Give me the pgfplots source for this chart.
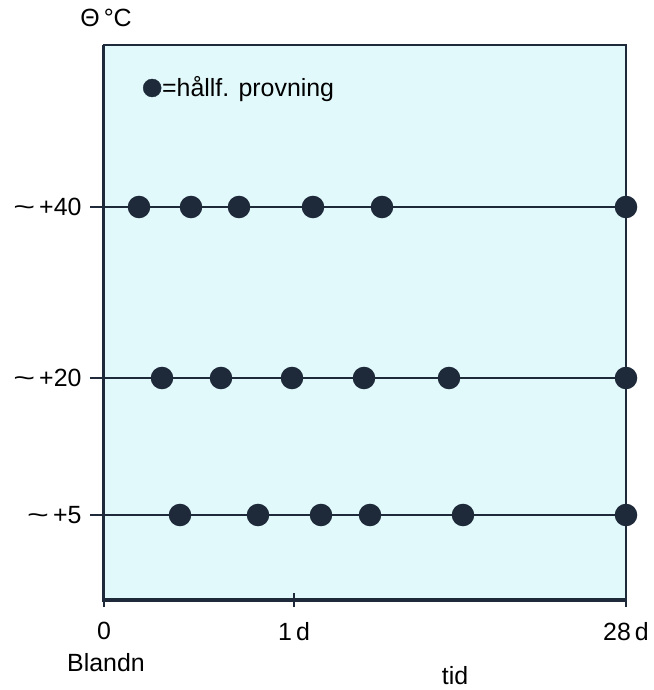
\documentclass[border=0pt]{standalone}
\usepackage{fontspec}
\setmainfont{Liberation Sans}
\usepackage{pgfplots}
\pgfplotsset{compat=1.18}
\definecolor{bgblue}{HTML}{E2F9FB}
\definecolor{dot}{HTML}{1E2A3A}
\newcommand{\ca}{\scalebox{1.5}[1]{\textasciitilde}\,}
\begin{document}
\fontsize{25}{30}\selectfont
\begin{tikzpicture}
  \begin{axis}[
      scale only axis,
      width=522bp,
      height=555bp,
      xmin=0, xmax=522,
      ymin=0, ymax=555,
      clip=false,
      axis background/.style={fill=bgblue},
      axis line style={line width=1.3bp, draw=dot},
      tick pos=left,
      xtick={190},
      xticklabels={1\,d},
      x tick style={line width=2bp, draw=dot},
      xtick align=center,
      x tick label style={anchor=north, yshift=-7bp},
      extra x ticks={0,522},
      extra x tick labels={0,28\,d},
      extra x tick style={tick style={draw=none}},
      ytick={85,222,393},
      yticklabels={\ca+5,\ca+20,\ca+40},
      ytick align=outside,
      y tick style={line width=2bp, draw=dot},
      major tick length=14bp,
      legend style={at={(axis cs:39,512)}, anchor=west, draw=none, fill=none,
        inner sep=0pt, nodes={inner xsep=1pt}},
      legend image code/.code={
        \draw[dot, mark=*, mark size=9bp, mark options={fill=dot}]
          plot coordinates {(9bp,0bp)};
      },
  ]
    \addlegendimage{}
    \addlegendentry{=hållf. provning}

    % +40
    \addplot[dot, line width=2.5bp, mark=*, mark size=10bp,
      mark options={fill=dot}, mark indices={2,3,4,5,6,7}, forget plot]
      coordinates {(0,393) (35,393) (87,393) (135,393) (209,393) (278,393) (522,393)};
    % +20
    \addplot[dot, line width=2.5bp, mark=*, mark size=10bp,
      mark options={fill=dot}, mark indices={2,3,4,5,6,7}, forget plot]
      coordinates {(0,222) (58,222) (117,222) (188,222) (260,222) (345,222) (522,222)};
    % +5
    \addplot[dot, line width=2.5bp, mark=*, mark size=10bp,
      mark options={fill=dot}, mark indices={2,3,4,5,6,7}, forget plot]
      coordinates {(0,85) (76,85) (154,85) (217,85) (266,85) (359,85) (522,85)};

    \draw[dot, line width=3bp] (axis cs:0,555) -- (axis cs:0,0) -- (axis cs:522,0);
    \node at (axis cs:2,582) {Θ\,°C};
    \node at (axis cs:2,-63) {Blandn};
    \node[inner sep=1pt] at (axis cs:351,-76) {tid};
    \coordinate (bbl) at (axis cs:-104,-90);
    \coordinate (bbr) at (axis cs:550,600);
  \end{axis}
  \pgfresetboundingbox
  \path (bbl) rectangle (bbr);
\end{tikzpicture}
\end{document}
